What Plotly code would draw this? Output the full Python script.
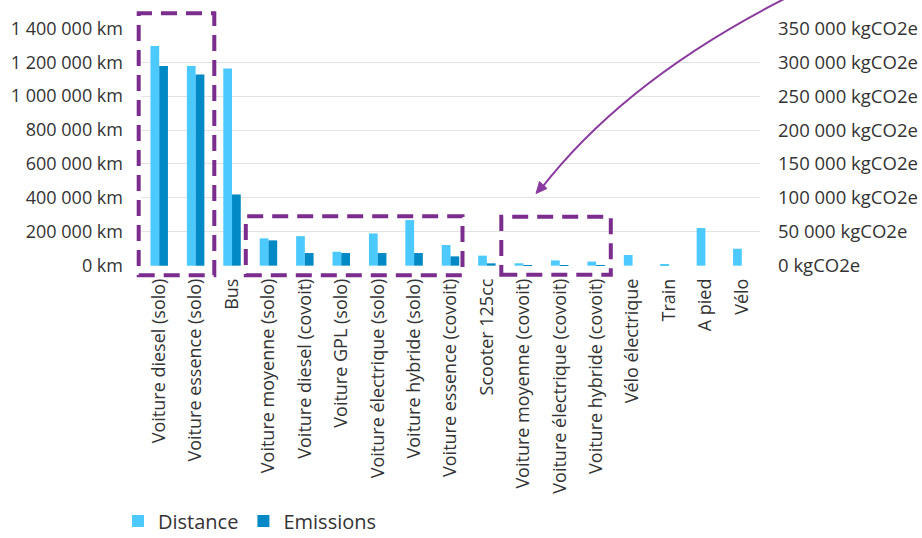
import plotly.graph_objects as go

categories = [
    "Voiture diesel (solo)", "Voiture essence (solo)", "Bus",
    "Voiture moyenne (solo)", "Voiture diesel (covoit)", "Voiture GPL (solo)",
    "Voiture électrique (solo)", "Voiture hybride (solo)", "Voiture essence (covoit)",
    "Scooter 125cc", "Voiture moyenne (covoit)", "Voiture électrique (covoit)",
    "Voiture hybride (covoit)", "Vélo électrique", "Train", "A pied", "Vélo",
]
distance_km = [1296000, 1178000, 1163000, 161000, 174000, 82000, 190000, 269000,
               122000, 59000, 14000, 31000, 24000, 63000, 4000, 222000, 100000]
emissions_kg = [294500, 282000, 105000, 37300, 18600, 18600, 18600, 18600,
                13700, 3400, 600, 700, 400, 0, 0, 0, 0]

left_ticks = [0, 200000, 400000, 600000, 800000, 1000000, 1200000, 1400000]
left_labels = ["0 km", "200 000 km", "400 000 km", "600 000 km", "800 000 km",
               "1 000 000 km", "1 200 000 km", "1 400 000 km"]
right_ticks = [0, 50000, 100000, 150000, 200000, 250000, 300000, 350000]
right_labels = ["0 kgCO2e", "50 000 kgCO2e", "100 000 kgCO2e", "150 000 kgCO2e",
                "200 000 kgCO2e", "250 000 kgCO2e", "300 000 kgCO2e", "350 000 kgCO2e"]

W, H = 922, 538
ML, MR, MT, MB = 141, 162, 28, 272
PW, PH = W - ML - MR, H - MT - MB
FONT = "Open Sans"
TXT = "#333333"
PURPLE = "#7B2D8E"


def px(x):
    return (x - ML) / PW


def py(y):
    return (H - MB - y) / PH


fig = go.Figure()
fig.add_trace(go.Bar(x=categories, y=distance_km, name="Distance",
                     marker=dict(color="#4CC9FF", line=dict(width=0)),
                     offsetgroup="d", yaxis="y"))
fig.add_trace(go.Bar(x=categories, y=emissions_kg, name="Emissions",
                     marker=dict(color="#0089C4", line=dict(width=0)),
                     offsetgroup="e", yaxis="y2"))

# dashed highlight boxes (pixel geometry converted to paper coords)
boxes = [(138.7, 13.2, 214.3, 275.3), (245.8, 216.3, 462.5, 275.3), (501.3, 216.8, 610.8, 274.7)]
shapes = []
for x0, y0, x1, y1 in boxes:
    shapes.append(dict(type="rect", xref="paper", yref="paper",
                       x0=px(x0), x1=px(x1), y0=py(y1), y1=py(y0),
                       line=dict(color=PURPLE, width=4, dash="16px,9px"),
                       fillcolor="rgba(0,0,0,0)", layer="above"))

# curved arrow
p0, c, p2 = (792, -5), (626, 78), (540, 190)
shapes.append(dict(type="path", xref="paper", yref="paper",
                   path=f"M {px(p0[0])},{py(p0[1])} Q {px(c[0])},{py(c[1])} {px(p2[0])},{py(p2[1])}",
                   line=dict(color="#8A3A9E", width=2), layer="above"))
tip, b1, b2 = (536, 193.5), (547, 188.5), (539.5, 181.5)
shapes.append(dict(type="path", xref="paper", yref="paper",
                   path=f"M {px(tip[0])},{py(tip[1])} L {px(b1[0])},{py(b1[1])} L {px(b2[0])},{py(b2[1])} Z",
                   line=dict(color="#8A3A9E", width=1), fillcolor="#8A3A9E", layer="above"))

fig.update_layout(
    width=W, height=H,
    margin=dict(l=ML, r=MR, t=MT, b=MB, pad=0, autoexpand=False),
    paper_bgcolor="white", plot_bgcolor="white",
    font=dict(family=FONT, size=18, color=TXT),
    barmode="group", bargap=0.52, bargroupgap=0,
    showlegend=True,
    legend=dict(orientation="h", x=px(118), xanchor="left", y=py(521), yanchor="middle",
                font=dict(family=FONT, size=20, color=TXT), itemwidth=30,
                bgcolor="rgba(0,0,0,0)"),
    xaxis=dict(type="category", tickangle=-90, showgrid=False, showline=False,
               ticks="", tickfont=dict(size=18, color=TXT), ticklabelstandoff=8,
               automargin=False),
    yaxis=dict(range=[-2000, 1402000], tickvals=left_ticks, ticktext=left_labels,
               showgrid=True, gridcolor="#E3E3E3", gridwidth=1, zeroline=False,
               showline=False, ticks="", ticklabelstandoff=17, automargin=False,
               tickfont=dict(size=18, color=TXT)),
    yaxis2=dict(range=[-500, 350500], tickvals=right_ticks, ticktext=right_labels,
                overlaying="y", side="right", showgrid=False, zeroline=False,
                showline=False, ticks="", ticklabelstandoff=17, automargin=False,
                tickfont=dict(size=18.5, color=TXT)),
    shapes=shapes,
)

fig.write_html("out.html", config={"displayModeBar": False},
               post_script="document.body.style.margin='0';document.body.style.overflow='hidden';")
